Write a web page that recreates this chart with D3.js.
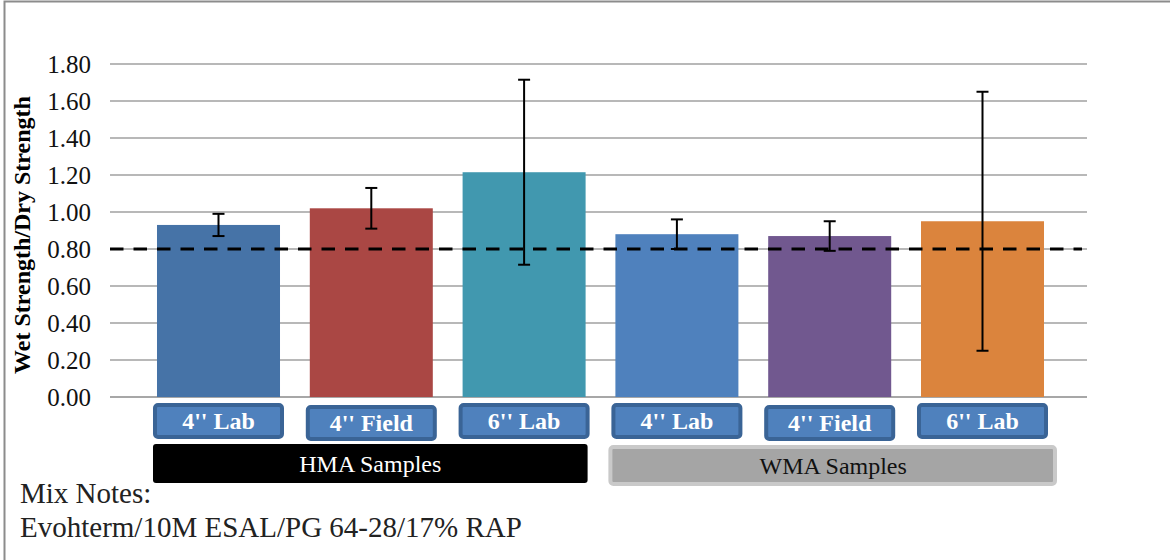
<!DOCTYPE html>
<html><head><meta charset="utf-8">
<script src="https://cdn.jsdelivr.net/npm/d3@7"></script>
<style>body{margin:0;background:#fff}svg{display:block}</style>
</head><body>
<svg id="c" width="1170" height="560"></svg>
<script>
const categories = ["4'' Lab","4'' Field","6'' Lab","4'' Lab","4'' Field","6'' Lab"];
const values = [0.93, 1.02, 1.215, 0.88, 0.87, 0.95];
const errors = [0.06, 0.11, 0.50, 0.08, 0.08, 0.70];
const colors = ["#4673A7","#AA4744","#4198AF","#4F81BD","#71588F","#DB843D"];
const yTicks = [0,0.2,0.4,0.6,0.8,1.0,1.2,1.4,1.6,1.8];
const threshold = 0.80;
const groups = [{name:"HMA Samples", from:0, to:2},{name:"WMA Samples", from:3, to:5}];
const notes = ["Mix Notes:","Evohterm/10M ESAL/PG 64-28/17% RAP"];

const svg = d3.select("#c");
const font = "'Liberation Serif','Times New Roman',serif";

// outer border
svg.append("path").attr("d","M4.5,560 L4.5,1.5 L1170,1.5").attr("fill","none").attr("stroke","#8c8c8c").attr("stroke-width",2);

const y = d3.scaleLinear().domain([0,1.8]).range([397,64]);
const x = d3.scaleBand().domain(d3.range(categories.length)).range([142.1,1058.9]).paddingInner(0.195).paddingOuter(0.0975);

const gridL = 110, gridR = 1087;
// grid
svg.append("g").selectAll("line").data(yTicks).join("line")
  .attr("x1",gridL).attr("x2",gridR).attr("y1",d=>y(d)).attr("y2",d=>y(d))
  .attr("stroke",d=>d===0?"#8a8a8a":"#a0a0a0").attr("stroke-width",1.6);

// y tick labels
svg.append("g").selectAll("text").data(yTicks).join("text")
  .attr("x",91).attr("y",d=>y(d)).attr("dy","0.35em").attr("text-anchor","end")
  .attr("font-family",font).attr("font-size",25).attr("fill","#111")
  .text(d=>d3.format(".2f")(d));

// y title
svg.append("text").attr("transform","translate(30,235) rotate(-90)").attr("text-anchor","middle")
  .attr("font-family",font).attr("font-size",24).attr("font-weight","bold").attr("fill","#000")
  .text("Wet Strength/Dry Strength");

// bars
svg.append("g").selectAll("rect").data(values).join("rect")
  .attr("x",(d,i)=>x(i)).attr("width",x.bandwidth())
  .attr("y",d=>y(d)).attr("height",d=>y(0)-y(d)).attr("fill",(d,i)=>colors[i]);

// threshold dashed line
svg.append("line").attr("x1",gridL).attr("x2",1082).attr("y1",y(threshold)).attr("y2",y(threshold))
  .attr("stroke","#000").attr("stroke-width",3).attr("stroke-dasharray","13.5,10");

// error bars
const eg = svg.append("g").attr("stroke","#000").attr("stroke-width",2);
values.forEach((v,i)=>{
  const cx = x(i)+x.bandwidth()/2;
  eg.append("line").attr("x1",cx).attr("x2",cx).attr("y1",y(v+errors[i])).attr("y2",y(v-errors[i]));
  [v+errors[i], v-errors[i]].forEach(e=>{
    eg.append("line").attr("x1",cx-6).attr("x2",cx+6).attr("y1",y(e)).attr("y2",y(e));
  });
});

// category label boxes
const lg = svg.append("g");
categories.forEach((c,i)=>{
  const x0 = x(i)-2, w = x.bandwidth()+4;
  const isField = c.indexOf("Field")>=0;
  const top = isField ? 407 : 405;
  lg.append("rect").attr("x",x0).attr("y",top).attr("width",w).attr("height",32).attr("rx",3)
    .attr("fill","#4F81BD").attr("stroke","#3A6496").attr("stroke-width",4);
  lg.append("text").attr("x",x0+w/2).attr("y",top+24).attr("text-anchor","middle")
    .attr("font-family",font).attr("font-size",24).attr("font-weight","bold").attr("fill","#fff").text(c);
});

// group boxes
groups.forEach((g,gi)=>{
  const x0 = x(g.from)-4, x1 = x(g.to)+x.bandwidth()+(gi===0?2:12);
  const top = gi===0?444:447;
  if(gi===0){
    svg.append("rect").attr("x",x0).attr("y",top).attr("width",x1-x0).attr("height",39).attr("rx",3).attr("fill","#000");
    svg.append("text").attr("x",(x0+x1)/2).attr("y",top+28).attr("text-anchor","middle")
      .attr("font-family",font).attr("font-size",24).attr("fill","#fff").text(g.name);
  } else {
    svg.append("rect").attr("x",x0-1).attr("y",top).attr("width",x1-x0).attr("height",37).attr("rx",3)
      .attr("fill","#A5A5A5").attr("stroke","#C9C9C9").attr("stroke-width",4);
    svg.append("text").attr("x",(x0-1+x1)/2).attr("y",top+27).attr("text-anchor","middle")
      .attr("font-family",font).attr("font-size",24).attr("fill","#111").text(g.name);
  }
});

// notes
notes.forEach((n,i)=>{
  svg.append("text").attr("x",20).attr("y",503+i*34).attr("font-family",font).attr("font-size",29)
    .attr("fill","#222").text(n);
});
</script>
</body></html>
